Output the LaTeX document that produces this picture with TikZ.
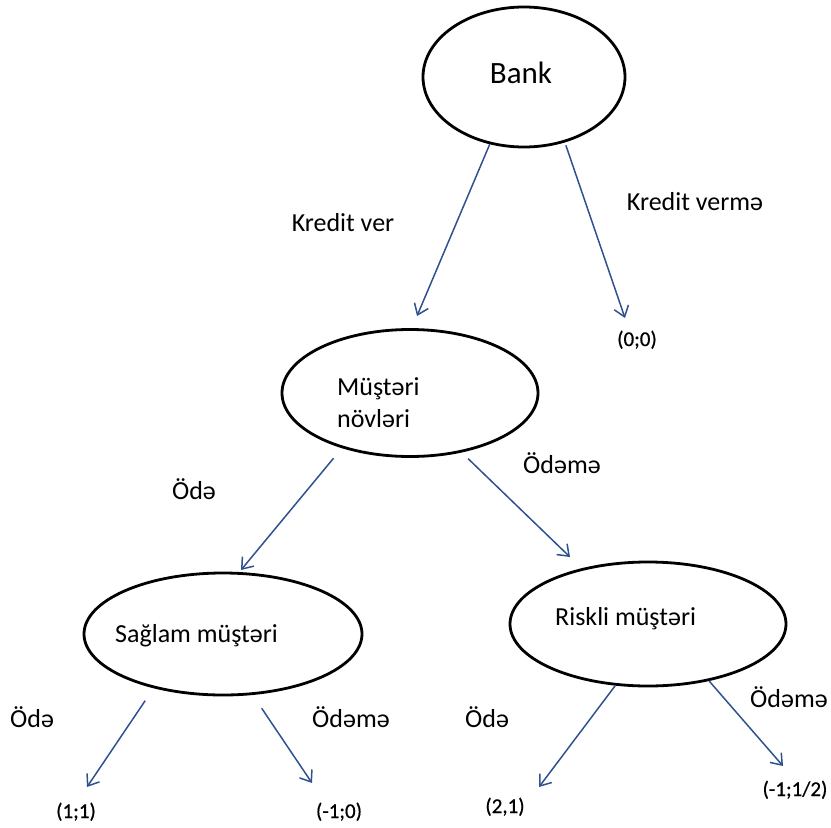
\documentclass[tikz,border=0pt]{standalone}
\usepackage{fontspec}
\setmainfont{Carlito}
\newfontfamily\valfont[FakeBold=0.6]{Carlito}
\usetikzlibrary{shapes.geometric,arrows.meta}
\definecolor{arrowblue}{RGB}{47,82,143}
\begin{document}
\begin{tikzpicture}[x=1pt,y=-1pt,
  state/.style={ellipse,draw=black,line width=2.8pt,inner sep=0pt},
  lbl/.style={inner sep=0pt,font=\fontsize{26}{30}\selectfont,anchor=base},
  val/.style={inner sep=0pt,font=\valfont\fontsize{21}{25}\selectfont,anchor=base},
  conn/.style={draw=arrowblue,line width=1.5pt,-{Straight Barb[length=10pt,width=15pt]}}]
\useasboundingbox (0,0) rectangle (831,828);
% ellipses
\node[state,minimum width=202pt,minimum height=140pt] (bank) at (524,77) {};
\node[lbl,font=\fontsize{31}{36}\selectfont] (tbank) at (521,83) {Bank};
\node[state,minimum width=256pt,minimum height=127pt] (mustn) at (410,393) {};
\node[lbl,anchor=base west] (tm1) at (337,395) {Müştəri};
\node[lbl,anchor=base west] (tm2) at (337,427) {növləri};
\node[state,minimum width=278pt,minimum height=122pt] (saglam) at (223,634) {};
\node[lbl,anchor=base west] (ts) at (115,642) {Sağlam müştəri};
\node[state,minimum width=276pt,minimum height=124pt] (riskli) at (648,624) {};
\node[lbl,anchor=base west] (tr) at (555,625) {Riskli müştəri};
% edge labels
\node[lbl] (l1) at (343,231) {Kredit ver};
\node[lbl] (l2) at (695,210) {Kredit vermə};
\node[lbl] (l3) at (194,499) {Ödə};
\node[lbl,anchor=base west] (l4) at (523,473) {Ödəmə};
\node[lbl,anchor=base west] (l5) at (10,727) {Ödə};
\node[lbl,anchor=base west] (l6) at (312,727) {Ödəmə};
\node[lbl,anchor=base west] (l7) at (465,727) {Ödə};
\node[lbl,anchor=base west] (l8) at (750,707) {Ödəmə};
% payoffs
\node[val] (v0) at (637,346) {(0;0)};
\node[val] (v1) at (76,818) {(1;1)};
\node[val] (v2) at (339,818) {(-1;0)};
\node[val] (v3) at (505,813) {(2,1)};
\node[val] (v4) at (795,796) {(-1;1/2)};
% arrow tips
\coordinate (c1) at (417,316);
\coordinate (c2) at (625,318);
\coordinate (c3) at (241,570);
\coordinate (c4) at (570,557);
\coordinate (c5) at (87,787);
\coordinate (c6) at (312,783);
\coordinate (c7) at (539,787);
\coordinate (c8) at (783,766);
% connectors
\draw[conn] (bank.243.4) -- (c1);
\draw[conn,shorten <=3pt] (bank.302.6) -- (c2);
\draw[conn,shorten <=13pt] (mustn.219) -- (c3);
\draw[conn,shorten <=9pt] (mustn.311.2) -- (c4);
\draw[conn,shorten <=15pt] (saglam.218.4) -- (c5);
\draw[conn,shorten <=16pt] (saglam.296) -- (c6);
\draw[conn] (riskli.242.8) -- (c7);
\draw[conn] (riskli.317.1) -- (c8);
\end{tikzpicture}
\end{document}
